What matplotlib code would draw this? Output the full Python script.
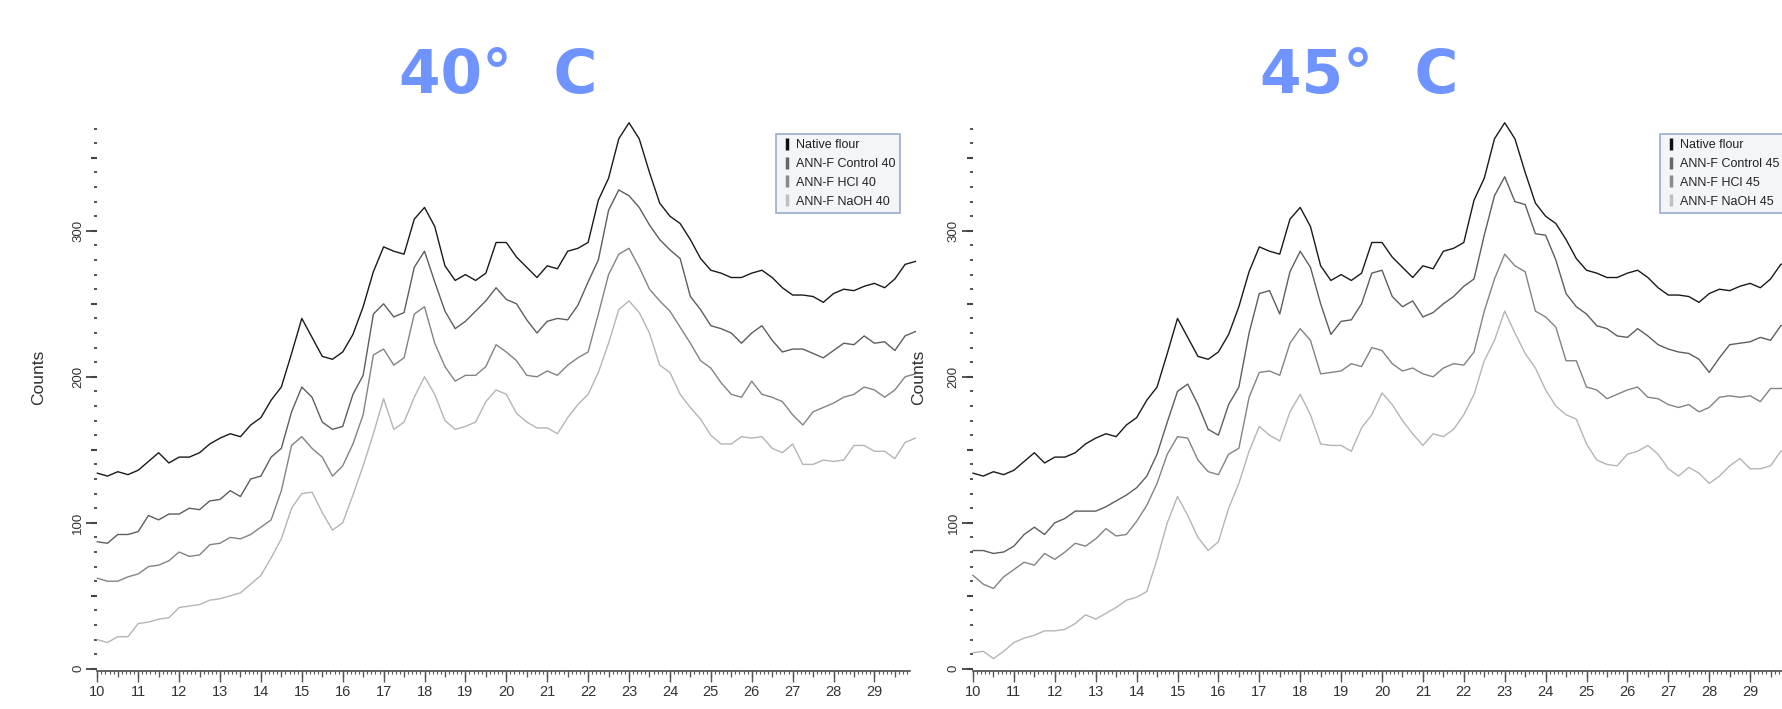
import numpy as np
import matplotlib
matplotlib.use('Agg')
import matplotlib.pyplot as plt
import matplotlib.font_manager as fm
from matplotlib.ticker import MultipleLocator, FixedLocator
from matplotlib.lines import Line2D

# two theta grid (degrees), one reading every 0.25
two_theta = np.arange(10, 30.001, 0.25)

# native flour is the same pattern in both panels
native_flour = [134, 132, 135, 133, 136, 142, 148, 141,
                145, 145, 148, 154, 158, 161, 159, 167,
                172, 184, 193, 216, 240, 227, 214, 212,
                217, 229, 248, 272, 289, 286, 284, 308,
                316, 303, 276, 266, 270, 266, 271, 292,
                292, 282, 275, 268, 276, 274, 286, 288,
                292, 321, 336, 363, 374, 363, 340, 319,
                310, 305, 294, 281, 273, 271, 268, 268,
                271, 273, 268, 261, 256, 256, 255, 251,
                257, 260, 259, 262, 264, 261, 267, 277,
                279]

control_40 = [87, 86, 92, 92, 94, 105, 102, 106,
              106, 110, 109, 115, 116, 122, 118, 130,
              132, 145, 151, 176, 193, 186, 169, 164,
              166, 188, 201, 243, 250, 241, 244, 275,
              286, 265, 245, 233, 238, 245, 252, 261,
              253, 250, 239, 230, 238, 240, 239, 249,
              265, 280, 314, 328, 324, 316, 304, 294,
              287, 281, 255, 246, 235, 233, 230, 223,
              230, 235, 225, 217, 219, 219, 216, 213,
              218, 223, 222, 228, 223, 224, 218, 228,
              231]

hcl_40 = [62, 60, 60, 63, 65, 70, 71, 74,
          80, 77, 78, 85, 86, 90, 89, 92,
          97, 102, 122, 153, 159, 151, 145, 132,
          139, 154, 174, 215, 219, 208, 213, 243,
          248, 223, 207, 197, 201, 201, 207, 222,
          217, 211, 201, 200, 204, 201, 208, 213,
          217, 243, 270, 284, 288, 275, 260, 252,
          245, 234, 223, 211, 206, 196, 188, 186,
          197, 188, 186, 183, 174, 167, 176, 179,
          182, 186, 188, 193, 191, 186, 191, 200,
          202]

naoh_40 = [20, 18, 22, 22, 31, 32, 34, 35,
           42, 43, 44, 47, 48, 50, 52, 58,
           64, 76, 89, 110, 120, 121, 107, 95,
           100, 119, 139, 161, 185, 164, 169, 186,
           200, 188, 170, 164, 166, 169, 183, 191,
           188, 175, 169, 165, 165, 161, 172, 181,
           188, 203, 223, 246, 252, 244, 230, 208,
           203, 188, 179, 171, 160, 154, 154, 159,
           158, 159, 151, 148, 154, 140, 140, 143,
           142, 143, 153, 153, 149, 149, 144, 155,
           158]

control_45 = [81, 81, 79, 80, 84, 92, 97, 92,
              100, 103, 108, 108, 108, 111, 115, 119,
              124, 132, 147, 169, 190, 195, 181, 164,
              160, 181, 193, 230, 257, 259, 243, 272,
              286, 275, 250, 229, 238, 239, 250, 271,
              273, 255, 248, 252, 241, 244, 250, 255,
              262, 267, 297, 324, 337, 320, 318, 298,
              297, 280, 257, 248, 243, 235, 233, 228,
              227, 233, 228, 222, 219, 217, 216, 212,
              203, 213, 222, 223, 224, 227, 225, 235,
              237]

hcl_45 = [64, 58, 55, 63, 68, 73, 71, 79,
          75, 80, 86, 84, 89, 96, 91, 92,
          101, 112, 127, 147, 159, 158, 143, 135,
          133, 147, 151, 186, 203, 204, 201, 223,
          233, 225, 202, 203, 204, 209, 207, 220,
          218, 209, 204, 206, 202, 200, 206, 209,
          208, 217, 245, 267, 284, 276, 272, 245,
          241, 234, 211, 211, 193, 191, 185, 188,
          191, 193, 186, 185, 181, 179, 181, 176,
          179, 186, 187, 186, 187, 183, 192, 192,
          193]

naoh_45 = [11, 12, 7, 12, 18, 21, 23, 26,
           26, 27, 31, 37, 34, 38, 42, 47,
           49, 53, 75, 100, 118, 105, 90, 81,
           87, 110, 127, 149, 166, 160, 156, 176,
           188, 174, 154, 153, 153, 149, 165, 174,
           189, 181, 170, 161, 153, 161, 159, 164,
           174, 188, 211, 225, 245, 230, 216, 206,
           191, 180, 174, 171, 154, 143, 140, 139,
           147, 149, 153, 147, 137, 132, 138, 134,
           127, 132, 139, 144, 137, 137, 139, 149,
           151]

titles = ['40°  C', '45°  C']
labels_40 = ['Native flour', 'ANN-F Control 40', 'ANN-F HCl 40', 'ANN-F NaOH 40']
labels_45 = ['Native flour', 'ANN-F Control 45', 'ANN-F HCl 45', 'ANN-F NaOH 45']
line_colors = ['#1a1a1a', '#5e5e5e', '#838383', '#b5b5b5']
mark_colors = ['#111111', '#666666', '#8a8a8a', '#c0c0c0']

# fonts
names = {f.name for f in fm.fontManager.ttflist}
if 'Liberation Sans Narrow' in names:
    small_font, tick_size, leg_size = 'Liberation Sans Narrow', 12, 10.5
else:
    small_font, tick_size, leg_size = 'Liberation Sans', 10.5, 9

W, H = 1782, 709
fig = plt.figure(figsize=(W / 100, H / 100), dpi=100)
fig.patch.set_facecolor('white')

panels = [
    (97.3, 498, 39, 0.835, titles[0], labels_40, [native_flour, control_40, hcl_40, naoh_40]),
    (973.0, 1359, 919, 0.845, titles[1], labels_45, [native_flour, control_45, hcl_45, naoh_45]),
]

for left_px, title_x, counts_x, leg_x, title, labels, series in panels:
    ax = fig.add_axes([left_px / W, (H - 671) / H, 812.7 / W, 557 / H])
    for ys, c in zip(series, line_colors):
        ax.plot(two_theta, ys, color=c, lw=1.0, clip_on=False)
    ax.set_xlim(10, 29.87)
    ax.set_ylim(-1.5, 380)

    for s in ['top', 'right', 'left']:
        ax.spines[s].set_visible(False)
    ax.spines['bottom'].set_color('#4a4a4a')
    ax.spines['bottom'].set_linewidth(1.2)

    # x ticks
    ax.xaxis.set_major_locator(MultipleLocator(1))
    ax.xaxis.set_minor_locator(MultipleLocator(0.1))
    ax.tick_params(axis='x', which='major', length=8, width=1.0, color='#555555',
                   pad=2, labelsize=tick_size, labelcolor='#333333')
    ax.tick_params(axis='x', which='minor', length=2.5, width=0.8, color='#555555')
    for lbl in ax.get_xticklabels():
        lbl.set_family(small_font)
    secx = ax.secondary_xaxis('bottom')
    secx.xaxis.set_major_locator(MultipleLocator(0.5))
    secx.tick_params(length=4.5, width=0.9, color='#555555', labelbottom=False)
    secx.spines['bottom'].set_visible(False)

    # y ticks
    ax.yaxis.set_major_locator(FixedLocator([0, 100, 200, 300]))
    ax.yaxis.set_minor_locator(FixedLocator(np.arange(0, 371, 10)))
    ax.tick_params(axis='y', which='major', length=8, width=1.3, color='#444444',
                   pad=1.5, labelsize=tick_size - 1, labelcolor='#333333', labelrotation=90)
    ax.tick_params(axis='y', which='minor', length=2.2, width=1.3, color='#444444')
    for lbl in ax.get_yticklabels():
        lbl.set_family(small_font)
        lbl.set_va('center')
    secy = ax.secondary_yaxis('left')
    secy.yaxis.set_major_locator(FixedLocator(np.arange(0, 351, 50)))
    secy.tick_params(length=4, width=1.5, color='#444444', labelleft=False)
    secy.spines['left'].set_visible(False)

    handles = [Line2D([], [], color=c, marker='|', linestyle='None',
                      markersize=8, markeredgewidth=2.5) for c in mark_colors]
    leg = ax.legend(handles, labels, loc='upper left', bbox_to_anchor=(leg_x, 0.964),
                    borderaxespad=0, frameon=True, fancybox=False,
                    edgecolor='#9aadcc', facecolor='#f4f5f8', framealpha=1,
                    prop={'family': small_font, 'size': leg_size},
                    handlelength=1.0, handletextpad=0.2, borderpad=0.4,
                    labelspacing=0.55)
    leg.get_frame().set_linewidth(1.2)
    for t in leg.get_texts():
        t.set_color('#222222')

    fig.text(counts_x / W, 1 - 377 / H, 'Counts', rotation=90, ha='center', va='center',
             fontsize=12.5, color='#333333', family='Liberation Sans')
    fig.text(title_x / W, 1 - 93 / H, title, ha='center', va='baseline',
             fontsize=43, fontweight='bold', color='#7094ff', family='DejaVu Sans')

fig.savefig('out.png', dpi=100)
